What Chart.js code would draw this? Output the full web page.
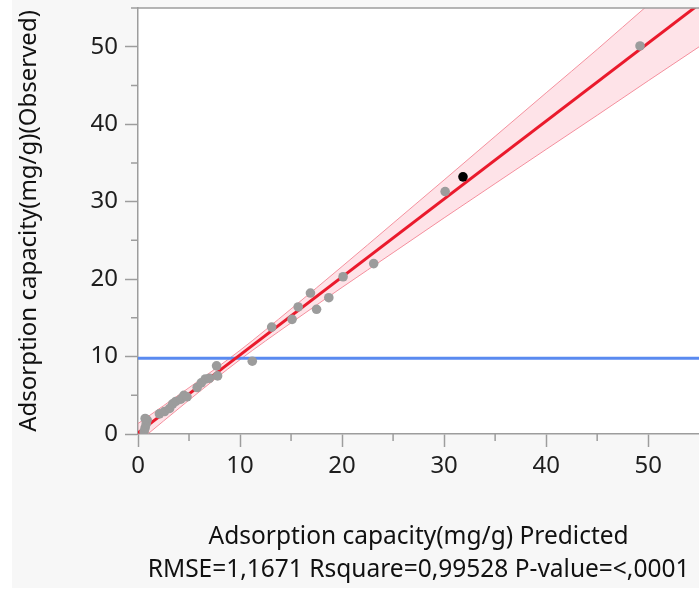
<!DOCTYPE html>
<html>
<head>
<meta charset="utf-8">
<script src="https://cdn.jsdelivr.net/npm/chart.js@4.4.0/dist/chart.umd.min.js"></script>
<style>
  html, body { margin: 0; padding: 0; background: #fff; overflow: hidden; width: 699px; height: 590px; }
  #c { position: absolute; left: 12px; top: 0; background: #f7f7f7; }
</style>
</head>
<body>
<canvas id="c" width="692" height="588"></canvas>
<script>
var predicted = [0.6, 0.7, 0.8, 0.9, 0.7, 2.1, 2.6, 3.1, 3.4, 3.7, 4.2, 4.5, 4.8, 5.8, 6.2, 6.6, 7.0,
                 7.7, 7.8, 11.2, 13.1, 15.1, 15.7, 16.9, 17.5, 18.7, 20.1, 23.1, 30.1, 49.2];
var observed  = [0.3, 0.8, 1.3, 1.8, 2.0, 2.6, 2.9, 3.3, 3.9, 4.2, 4.5, 5.0, 4.8, 6.0, 6.6, 7.1, 7.2,
                 8.8, 7.5, 9.4, 13.8, 14.8, 16.4, 18.2, 16.1, 17.6, 20.3, 22.0, 31.3, 50.1];
var selPredicted = [31.85];
var selObserved  = [33.2];

var fitX = [0, 55];
var fitY = [0.15, 55.5];
var meanObserved = 9.77;

var bandX    = [0, 5, 10, 15, 20, 25, 30, 35, 40, 45, 50, 55];
var bandLow  = [-1.05, 4.38, 9.6, 14.35, 18.93, 23.41, 27.9, 32.33, 36.75, 41.15, 45.6, 50.0];
var bandHigh = [1.35, 5.98, 10.8, 16.15, 21.63, 27.21, 32.8, 38.43, 44.05, 49.65, 55.4, 61.0];

var xTicks = [0, 10, 20, 30, 40, 50];
var yTicks = [0, 10, 20, 30, 40, 50];
var minorTicks = [5, 15, 25, 35, 45];

var FONT = '"Noto Sans", "Open Sans", sans-serif';

function pts(xs, ys) {
  return xs.map(function (x, i) { return { x: x, y: ys[i] }; });
}

var framePlugin = {
  id: 'frame',
  beforeDraw: function (chart) {
    var a = chart.chartArea, ctx = chart.ctx;
    ctx.save();
    ctx.fillStyle = '#ffffff';
    ctx.fillRect(a.left, a.top, a.right - a.left, a.bottom - a.top);
    ctx.restore();
  },
  afterDraw: function (chart) {
    var a = chart.chartArea, ctx = chart.ctx;
    var sx = chart.scales.x, sy = chart.scales.y;
    ctx.save();
    ctx.strokeStyle = '#9d9d9d';
    ctx.lineWidth = 1.5;
    ctx.beginPath();
    ctx.moveTo(a.left - 7, a.top);
    ctx.lineTo(chart.width, a.top);
    minorTicks.forEach(function (v) {
      var px = sx.getPixelForValue(v);
      ctx.moveTo(px, a.bottom);
      ctx.lineTo(px, a.bottom + 7);
      var py = sy.getPixelForValue(v);
      ctx.moveTo(a.left, py);
      ctx.lineTo(a.left - 7, py);
    });
    ctx.stroke();
    ctx.restore();
  }
};

new Chart(document.getElementById('c'), {
  type: 'scatter',
  data: {
    datasets: [
      {
        data: pts(predicted, observed),
        pointRadius: 4.8,
        pointBackgroundColor: '#9c9c9c',
        pointBorderWidth: 0,
        showLine: false
      },
      {
        data: pts(selPredicted, selObserved),
        pointRadius: 4.8,
        pointBackgroundColor: '#000000',
        pointBorderWidth: 0,
        showLine: false
      },
      {
        data: pts(fitX, fitY),
        showLine: true,
        borderColor: '#ea1a2c',
        borderWidth: 3,
        pointRadius: 0
      },
      {
        data: pts(fitX, [meanObserved, meanObserved]),
        showLine: true,
        borderColor: '#5a8af0',
        borderWidth: 3,
        pointRadius: 0
      },
      {
        data: pts(bandX, bandHigh),
        showLine: true,
        borderColor: '#f4919e',
        borderWidth: 1,
        backgroundColor: 'rgba(250, 140, 158, 0.24)',
        fill: '+1',
        cubicInterpolationMode: 'monotone',
        pointRadius: 0
      },
      {
        data: pts(bandX, bandLow),
        showLine: true,
        borderColor: '#f4919e',
        borderWidth: 1,
        cubicInterpolationMode: 'monotone',
        pointRadius: 0
      }
    ]
  },
  options: {
    responsive: false,
    animation: false,
    layout: { padding: { top: 8, right: 0, bottom: 0, left: 0 } },
    plugins: { legend: { display: false }, tooltip: { enabled: false } },
    scales: {
      x: {
        type: 'linear',
        min: 0,
        max: 55,
        afterFit: function (s) { s.height = 154; s.paddingLeft = 0; s.paddingRight = 0; },
        afterBuildTicks: function (s) { s.ticks = xTicks.map(function (v) { return { value: v }; }); },
        border: { color: '#9d9d9d', width: 1.5 },
        grid: { drawOnChartArea: false, tickLength: 13, tickColor: '#9d9d9d', tickWidth: 1.5 },
        ticks: { color: '#1e1e1e', padding: 5, maxRotation: 0, font: { family: FONT, size: 24 } },
        title: {
          display: true,
          text: ['Adsorption capacity(mg/g) Predicted', 'RMSE=1,1671 Rsquare=0,99528 P-value=<,0001'],
          color: '#111',
          padding: { top: 0, bottom: 1.5 },
          font: { family: FONT, size: 24.5, lineHeight: 1.347 }
        }
      },
      y: {
        type: 'linear',
        min: 0,
        max: 55,
        afterFit: function (s) { s.width = 126; s.paddingTop = 0; s.paddingBottom = 0; },
        afterBuildTicks: function (s) { s.ticks = yTicks.map(function (v) { return { value: v }; }); },
        border: { color: '#9d9d9d', width: 1.5 },
        grid: { drawOnChartArea: false, tickLength: 13, tickColor: '#9d9d9d', tickWidth: 1.5 },
        ticks: { color: '#1e1e1e', padding: 7, font: { family: FONT, size: 24 } },
        title: {
          display: true,
          text: 'Adsorption capacity(mg/g)(Observed)',
          color: '#111',
          padding: { top: 2.5, bottom: 0 },
          font: { family: FONT, size: 24 }
        }
      }
    }
  },
  plugins: [framePlugin]
});
</script>
</body>
</html>
